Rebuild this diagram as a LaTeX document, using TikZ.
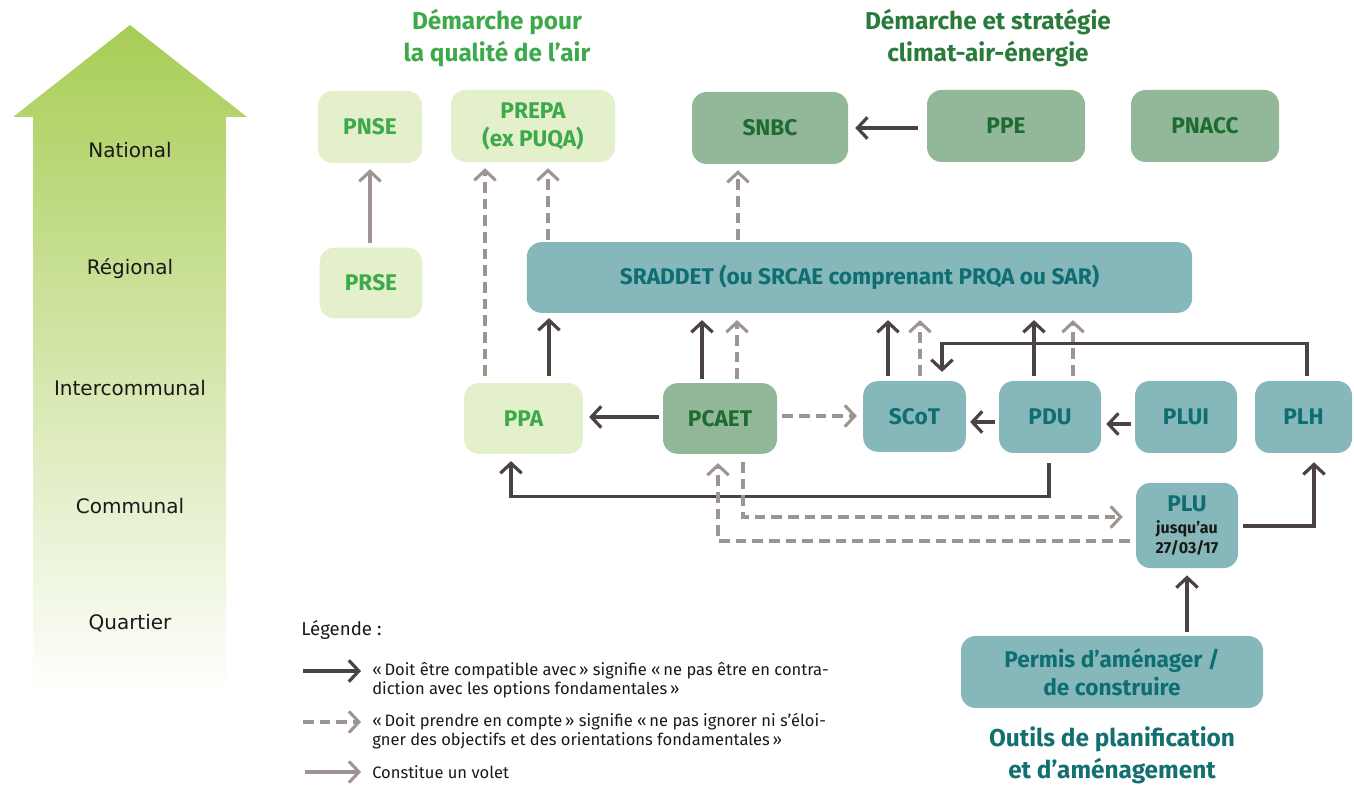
\documentclass[tikz,border=0pt]{standalone}
\usepackage{fontspec}
\setmainfont{Fira Sans}
\newfontfamily\lvlfont{DejaVu Sans}
\usetikzlibrary{arrows.meta,calc}
\definecolor{lgbox}{HTML}{E4EFCC}
\definecolor{lgtxt}{HTML}{3DAA49}
\definecolor{mgbox}{HTML}{93B899}
\definecolor{mgtxt}{HTML}{1F6B34}
\definecolor{h2col}{HTML}{2A7B3B}
\definecolor{tlbox}{HTML}{86B8BB}
\definecolor{tltxt}{HTML}{0F6E72}
\definecolor{h3col}{HTML}{136F70}
\definecolor{dkarr}{HTML}{4B4341}
\definecolor{gyarr}{HTML}{9E9491}
\definecolor{arrtop}{HTML}{A8CD55}
\begin{document}
\begin{tikzpicture}[x=0.75pt,y=-0.75pt,
  box/.style={rounded corners=11pt, inner sep=0pt, font=\fontsize{17}{21}\selectfont\bfseries, align=center},
  lg/.style={box, fill=lgbox, text=lgtxt},
  mg/.style={box, fill=mgbox, text=mgtxt},
  tl/.style={box, fill=tlbox, text=tltxt},
  tipb/.style={-{Straight Barb[length=7.5pt,width=16pt]}},
  dkline/.style={draw=dkarr, line width=2.4pt, tipb},
  gyline/.style={draw=gyarr, line width=2.3pt, tipb},
  gydash/.style={draw=gyarr, line width=2.3pt, tipb, dash pattern=on 8pt off 4.5pt},
  lvl/.style={font=\lvlfont\fontsize{15}{18}\selectfont, text=black!90},
  head/.style={font=\fontsize{18.3}{24}\selectfont\bfseries, align=center},
  legt/.style={anchor=west, align=left, inner sep=0pt, font=\fontsize{12.4}{14.25}\selectfont, text=black!90},
]
\useasboundingbox (0,0) rectangle (1354,787);

% big level arrow
\shade[top color=arrtop, bottom color=white] (33,697) -- (33,117) -- (13,117) -- (130,25) -- (247,117) -- (226,117) -- (226,697) -- cycle;
\node[lvl] (L1) at (130,150) {National};
\node[lvl] (L2) at (130,269) {Régional};
\node[lvl] (L3) at (130,388) {Intercommunal};
\node[lvl] (L4) at (130,506) {Communal};
\node[lvl] (L5) at (130,623) {Quartier};

% headings
\node[head, text=lgtxt] (H1) at (497,38) {Démarche pour\\la qualité de l’air};
\node[head, text=h2col] (H2) at (988,38) {Démarche et stratégie\\climat-air-énergie};
\node[head, text=h3col] (H3) at (1112,755) {Outils de planification\\et d’aménagement};

% boxes
\node[lg, minimum width=78pt, minimum height=54pt] (PNSE) at (370,127) {PNSE};
\node[lg, minimum width=123pt, minimum height=54pt] (PREPA) at (533,126) {PREPA\\(ex PUQA)};
\node[mg, minimum width=117pt, minimum height=54pt] (SNBC) at (770,128) {SNBC};
\node[mg, minimum width=118.5pt, minimum height=54pt] (PPE) at (1006,126) {PPE};
\node[mg, minimum width=111pt, minimum height=54pt] (PNACC) at (1205,126) {PNACC};
\node[lg, minimum width=77pt, minimum height=53pt] (PRSE) at (371,283) {PRSE};
\node[tl, minimum width=499pt, minimum height=53pt] (SRADDET) at (859.5,277.5) {SRADDET (ou SRCAE comprenant PRQA ou SAR)};
\node[lg, minimum width=89pt, minimum height=53pt] (PPA) at (523.5,418.5) {PPA};
\node[mg, minimum width=85.5pt, minimum height=53pt] (PCAET) at (720,418.5) {PCAET};
\node[tl, minimum width=77pt, minimum height=53pt] (SCoT) at (914.5,416.5) {SCoT};
\node[tl, minimum width=76.5pt, minimum height=54pt] (PDU) at (1050,417) {PDU};
\node[tl, minimum width=76.5pt, minimum height=54pt] (PLUI) at (1186,417) {PLUI};
\node[tl, minimum width=72.75pt, minimum height=54pt] (PLH) at (1303.5,417) {PLH};
\node[tl, minimum width=76.5pt, minimum height=64pt] (PLU) at (1187,525.5) {PLU\\[-4pt]{\fontsize{12}{15}\selectfont\color{black!90}jusqu’au}\\[-6pt]{\fontsize{12}{15}\selectfont\color{black!90}27/03/17}};
\node[tl, minimum width=226.5pt, minimum height=54pt] (PERMIS) at (1112,672) {Permis d’aménager /\\de construire};

% national level connectors
\draw[gyline] ($(PRSE.north)+(-1,-4)$) -- ($(PNSE.south)+(0,6)$);
\draw[dkline] ($(PPE.west)+(-9,2)$) -- ($(SNBC.east)+(7,0)$);
\coordinate (c1) at ($(PPA.north)+(-38.5,-7)$);
\draw[gydash] (c1) -- ($(c1 |- PREPA.south)+(0,6)$);
\coordinate (c2) at ($(SRADDET.north)+(-311.5,-2)$);
\draw[gydash] (c2) -- ($(c2 |- PREPA.south)+(0,6)$);
\coordinate (c3) at ($(SRADDET.north)+(-121.5,-2)$);
\draw[gydash] (c3) -- ($(c3 |- SNBC.south)+(0,6)$);

% to SRADDET
\coordinate (s1) at ($(PPA.north)+(25.5,-7)$);
\draw[dkline] (s1) -- ($(s1 |- SRADDET.south)+(0,5)$);
\coordinate (s2) at ($(PCAET.north)+(-18,-4)$);
\draw[dkline] (s2) -- ($(s2 |- SRADDET.south)+(0,7)$);
\coordinate (s3) at ($(PCAET.north)+(17,-4)$);
\draw[gydash] (s3) -- ($(s3 |- SRADDET.south)+(0,7)$);
\coordinate (s4) at ($(SCoT.north)+(-26.5,-5)$);
\draw[dkline] (s4) -- ($(s4 |- SRADDET.south)+(0,7)$);
\coordinate (s5) at ($(SCoT.north)+(5.5,-5)$);
\draw[gydash] (s5) -- ($(s5 |- SRADDET.south)+(0,7)$);
\coordinate (s6) at ($(PDU.north)+(-16,-5)$);
\draw[dkline] (s6) -- ($(s6 |- SRADDET.south)+(0,7)$);
\coordinate (s7) at ($(PDU.north)+(23,-5)$);
\draw[gydash] (s7) -- ($(s7 |- SRADDET.south)+(0,7)$);

% intercommunal row
\draw[dkline] ($(PCAET.west)+(-4,-1.5)$) -- ($(PPA.east)+(6,-1.5)$);
\draw[gydash] ($(PCAET.east)+(5,-2.5)$) -- ($(SCoT.west)+(-6,-0.5)$);
\draw[dkline] ($(PDU.west)+(-4,5)$) -- ($(SCoT.east)+(4,5.5)$);
\draw[dkline] ($(PLUI.west)+(-4,7)$) -- ($(PDU.east)+(5,7)$);
\draw[dkline] ($(PLH.north)+(3.5,-5)$) |- ($(SCoT.north)+(27.5,-37)$) -- ($(SCoT.north)+(27.5,-9)$);

% lower connections
\draw[dkline] ($(PDU.south)+(-1,10)$) -- ($(PDU.south)+(-1,43)$) -| ($(PPA.south)+(-12.5,7)$);
\draw[gydash] ($(PCAET.south)+(23,8)$) |- ($(PLU.west)+(-13,-8.5)$);
\draw[gydash] ($(PLU.west)+(-6,15.5)$) -| ($(PCAET.south)+(-2,9)$);
\draw[dkline] ($(PLU.east)+(5,0.5)$) -| ($(PLH.south)+(10.5,9)$);
\draw[dkline] ($(PERMIS.north)+(75,-4)$) -- ($(PLU.south)+(0,7)$);

% legend
\node[anchor=west, inner sep=0pt, font=\fontsize{14}{16}\selectfont, text=black!90] (LEG) at (301,630) {Légende :};
\coordinate (la1) at (303,671); \coordinate (lb1) at (361,671);
\draw[dkline] (la1) -- (lb1);
\coordinate (la2) at (303,722); \coordinate (lb2) at (361,722);
\draw[gydash] (la2) -- (lb2);
\coordinate (la3) at (305,772); \coordinate (lb3) at (361,772);
\draw[gyline] (la3) -- (lb3);
\node[legt] (T1) at (372,680) {«\,Doit être compatible avec\,» signifie «\,ne pas être en contra-\\diction avec les options fondamentales\,»};
\node[legt] (T2) at (372,731) {«\,Doit prendre en compte\,» signifie «\,ne pas ignorer ni s’éloi-\\gner des objectifs et des orientations fondamentales\,»};
\node[legt] (T3) at (372,772) {Constitue un volet};
\end{tikzpicture}
\end{document}
